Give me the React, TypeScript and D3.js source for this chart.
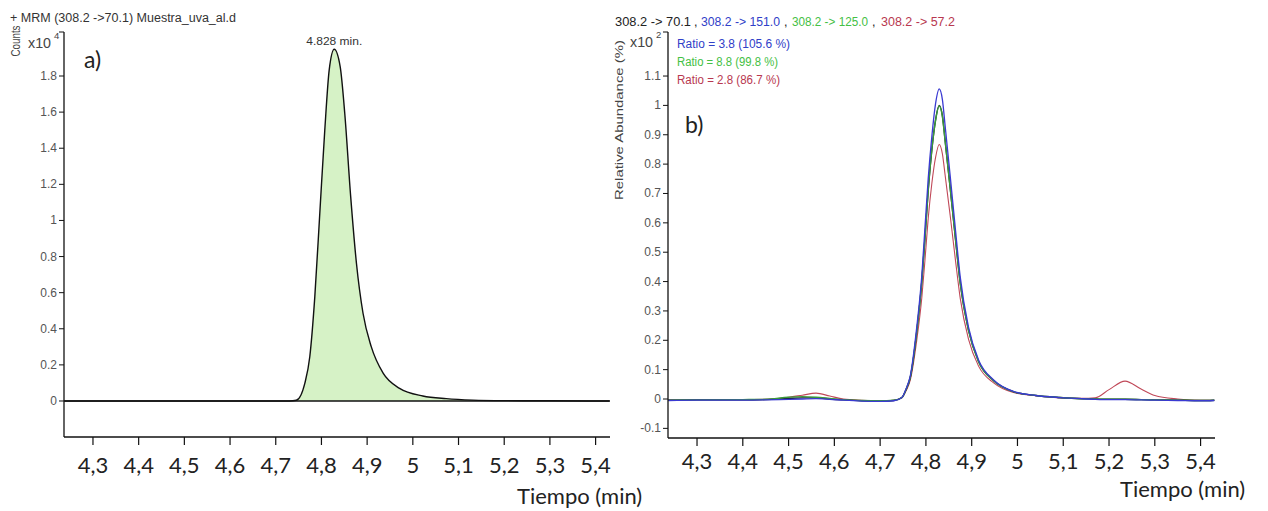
import React from "react";
import * as d3 from "d3";

// ---------- data ----------
const xTicks = [4.3, 4.4, 4.5, 4.6, 4.7, 4.8, 4.9, 5.0, 5.1, 5.2, 5.3, 5.4];
const xTickLabels = ["4,3", "4,4", "4,5", "4,6", "4,7", "4,8", "4,9", "5", "5,1", "5,2", "5,3", "5,4"];
const yTicksA = [0, 0.2, 0.4, 0.6, 0.8, 1, 1.2, 1.4, 1.6, 1.8];
const yTickLabelsA = ["0", "0.2", "0.4", "0.6", "0.8", "1", "1.2", "1.4", "1.6", "1.8"];
const yTicksB = [-0.1, 0, 0.1, 0.2, 0.3, 0.4, 0.5, 0.6, 0.7, 0.8, 0.9, 1, 1.1];
const yTickLabelsB = ["-0.1", "0", "0.1", "0.2", "0.3", "0.4", "0.5", "0.6", "0.7", "0.8", "0.9", "1", "1.1"];

// panel a: MRM 308.2 -> 70.1 (counts x10^4)
const tA = [4.237, 4.7, 4.73, 4.745, 4.7636, 4.7745, 4.7855, 4.7964, 4.8073, 4.817, 4.828, 4.841, 4.851, 4.864, 4.8766, 4.891, 4.909, 4.935, 4.971, 5.022, 5.073, 5.131, 5.2, 5.3, 5.43];
const countsA = [0, 0, 0, 0.004, 0.098, 0.245, 0.578, 1.04, 1.5, 1.834, 1.948, 1.852, 1.594, 1.132, 0.763, 0.486, 0.301, 0.154, 0.07, 0.028, 0.013, 0.005, 0.002, 0.001, 0];

// panel b: relative abundance (x10^2 %)
const tB = [4.237, 4.3, 4.4, 4.45, 4.5, 4.53, 4.56, 4.59, 4.62, 4.66, 4.7, 4.73,
  4.7475, 4.756, 4.766, 4.78, 4.791, 4.798, 4.805, 4.813, 4.821, 4.829,
  4.836, 4.842, 4.853, 4.864, 4.875, 4.893, 4.915, 4.948, 4.991, 5.04, 5.093,
  5.14, 5.17, 5.2, 5.235, 5.27, 5.3, 5.35, 5.4, 5.43];
const trace70 = [-0.004, -0.003, -0.003, -0.002, 0.002, 0.004, 0.004, 0.0, -0.003, -0.006, -0.007, -0.005,
  0.005, 0.03, 0.075, 0.23, 0.4, 0.55, 0.71, 0.85, 0.95, 1.0,
  0.965, 0.88, 0.72, 0.555, 0.395, 0.235, 0.128, 0.062, 0.025, 0.012, 0.005,
  0.001, 0.0, -0.001, -0.001, -0.002, -0.003, -0.004, -0.005, -0.004];
const trace151 = [-0.005, -0.004, -0.004, -0.003, -0.001, 0.0, 0.001, -0.001, -0.004, -0.007, -0.008, -0.006,
  0.005, 0.032, 0.08, 0.245, 0.42, 0.585, 0.75, 0.895, 1.005, 1.056,
  1.02, 0.93, 0.76, 0.585, 0.415, 0.245, 0.133, 0.065, 0.026, 0.012, 0.005,
  0.001, -0.001, -0.002, -0.002, -0.003, -0.004, -0.005, -0.006, -0.005];
const trace125 = [-0.004, -0.003, -0.002, -0.001, 0.006, 0.008, 0.006, 0.002, -0.002, -0.005, -0.006, -0.004,
  0.005, 0.03, 0.075, 0.23, 0.4, 0.55, 0.71, 0.85, 0.948, 0.998,
  0.962, 0.878, 0.718, 0.553, 0.394, 0.234, 0.127, 0.062, 0.025, 0.012, 0.005,
  0.001, 0.0, -0.001, -0.001, -0.002, -0.003, -0.004, -0.005, -0.004];
const trace57 = [-0.003, -0.002, -0.002, -0.001, 0.006, 0.013, 0.02, 0.01, 0.0, -0.004, -0.006, -0.004,
  0.004, 0.026, 0.065, 0.2, 0.345, 0.475, 0.615, 0.735, 0.822, 0.867,
  0.835, 0.762, 0.625, 0.48, 0.343, 0.204, 0.112, 0.055, 0.022, 0.011, 0.004,
  0.002, 0.004, 0.032, 0.061, 0.034, 0.012, 0.0, -0.004, -0.004];

const transitions = ["308.2 -> 70.1", "308.2 -> 151.0", "308.2 -> 125.0", "308.2 -> 57.2"];
const ratioLabels = ["Ratio = 3.8 (105.6 %)", "Ratio = 8.8 (99.8 %)", "Ratio = 2.8 (86.7 %)"];

// ---------- styles ----------
const BIG = "Lato, 'Open Sans', sans-serif";
const SMALL = "'Liberation Sans', Arial, sans-serif";
const C_BLACK = "#1a1a2a";
const C_BLUE = "#3a3ad2";
const C_GREEN = "#3a9a3a";
const C_RED = "#c04858";
const L_BLUE = "#3040c8";
const L_GREEN = "#44c044";
const L_RED = "#b83850";

const xDomain: [number, number] = [4.2366, 5.4315];

function XAxis({ x, y0, labelY }: { x: d3.ScaleLinear<number, number>; y0: number; labelY: number }) {
  const [a, b] = x.range();
  return (
    <g>
      <line x1={a} x2={b} y1={y0} y2={y0} stroke="#111" strokeWidth={1.3} />
      {xTicks.map((t, i) => (
        <g key={i}>
          <line x1={x(t)} x2={x(t)} y1={y0} y2={y0 + 8} stroke="#111" strokeWidth={1.2} />
          <text x={x(t)} y={labelY} fontFamily={BIG} fontSize={22} textAnchor="middle" fill="#222">
            {xTickLabels[i]}
          </text>
        </g>
      ))}
    </g>
  );
}

function YAxis({ y, x0, ticks, labels, top }: { y: d3.ScaleLinear<number, number>; x0: number; ticks: number[]; labels: string[]; top: number }) {
  const [b, t] = y.range();
  return (
    <g>
      <line x1={x0} x2={x0} y1={t} y2={b} stroke="#111" strokeWidth={1.3} />
      <line x1={x0 - 5} x2={x0} y1={top} y2={top} stroke="#111" strokeWidth={1} />
      {ticks.map((v, i) => (
        <g key={i}>
          <line x1={x0 - 5} x2={x0} y1={y(v)} y2={y(v)} stroke="#111" strokeWidth={1} />
          <text x={x0 - 7} y={y(v) + 4} fontFamily={SMALL} fontSize={12} textAnchor="end" fill="#555">
            {labels[i]}
          </text>
        </g>
      ))}
    </g>
  );
}

export default function App() {
  // panel a scales
  const xA = d3.scaleLinear().domain(xDomain).range([64, 610]);
  const yA = d3.scaleLinear().domain([-0.1994, 2.0437]).range([437, 32]);
  // panel b scales
  const xB = d3.scaleLinear().domain(xDomain).range([668, 1215]);
  const yB = d3.scaleLinear().domain([-0.1328, 1.25]).range([438, 32]);

  const ptsA = tA.map((t, i) => [t, countsA[i]] as [number, number]);
  const curve = d3.curveMonotoneX;
  const areaA = d3.area<[number, number]>().x((d) => xA(d[0])).y0(yA(0)).y1((d) => yA(d[1])).curve(curve);
  const lineA = d3.line<[number, number]>().x((d) => xA(d[0])).y((d) => yA(d[1])).curve(curve);

  const lineB = d3.line<[number, number]>().x((d) => xB(d[0])).y((d) => yB(d[1])).curve(curve);
  const mk = (vals: number[]) => tB.map((t, i) => [t, vals[i]] as [number, number]);
  const seriesB = [
    { vals: trace57, color: C_RED, w: 1.1 },
    { vals: trace70, color: C_BLACK, w: 1.4 },
    { vals: trace125, color: C_GREEN, w: 1.4 },
    { vals: trace151, color: C_BLUE, w: 1.3 },
  ];

  return (
    <svg width={1268} height={511} style={{ position: "absolute", left: 0, top: 0, background: "#fff" }}>
      <rect x={0} y={0} width={1268} height={511} fill="#fff" />
      {/* ---------------- panel a ---------------- */}
      <text x={10} y={22} fontFamily={SMALL} fontSize={12.5} fill="#333" textLength={226} lengthAdjust="spacingAndGlyphs">
        + MRM (308.2 -&gt;70.1) Muestra_uva_al.d
      </text>
      <text transform="translate(20,41) rotate(-90)" fontFamily={SMALL} fontSize={12} textAnchor="middle" fill="#444" textLength={31} lengthAdjust="spacingAndGlyphs">
        Counts
      </text>
      <text x={28} y={48} fontFamily={SMALL} fontSize={14} fill="#444" textLength={23} lengthAdjust="spacingAndGlyphs">x10</text>
      <text x={54} y={39} fontFamily={SMALL} fontSize={9.5} fill="#444">4</text>

      <path d={areaA(ptsA) || ""} fill="#d6f2c6" />
      <line x1={xA(xDomain[0])} x2={xA(xDomain[1])} y1={yA(0)} y2={yA(0)} stroke="#111" strokeWidth={1.4} />
      <path d={lineA(ptsA) || ""} fill="none" stroke="#111" strokeWidth={1.4} />
      <text x={xA(4.828)} y={45} fontFamily={SMALL} fontSize={11} textAnchor="middle" fill="#333" textLength={56} lengthAdjust="spacingAndGlyphs">
        4.828 min.
      </text>
      <text x={84} y={68} fontFamily={BIG} fontSize={23} fill="#222">a)</text>

      <YAxis y={yA} x0={64} ticks={yTicksA} labels={yTickLabelsA} top={32} />
      <XAxis x={xA} y0={437} labelY={473} />
      <text x={517} y={504} fontFamily={BIG} fontSize={22} fill="#222">Tiempo (min)</text>

      {/* ---------------- panel b ---------------- */}
      <g fontFamily={SMALL} fontSize={12.5}>
        <text x={615} y={26} fill="#222" textLength={76} lengthAdjust="spacingAndGlyphs">{transitions[0]}</text>
        <text x={694} y={26} fill="#222">,</text>
        <text x={701} y={26} fill={L_BLUE} textLength={79} lengthAdjust="spacingAndGlyphs">{transitions[1]}</text>
        <text x={784} y={26} fill="#222">,</text>
        <text x={792} y={26} fill={L_GREEN} textLength={76} lengthAdjust="spacingAndGlyphs">{transitions[2]}</text>
        <text x={872} y={26} fill="#222">,</text>
        <text x={881} y={26} fill={L_RED} textLength={74} lengthAdjust="spacingAndGlyphs">{transitions[3]}</text>
      </g>
      <text transform="translate(623,120) rotate(-90)" fontFamily={SMALL} fontSize={11} textAnchor="middle" fill="#444" textLength={160} lengthAdjust="spacingAndGlyphs">
        Relative Abundance (%)
      </text>
      <text x={630} y={47} fontFamily={SMALL} fontSize={14} fill="#444" textLength={23} lengthAdjust="spacingAndGlyphs">x10</text>
      <text x={656} y={38} fontFamily={SMALL} fontSize={9.5} fill="#444">2</text>
      <text x={677} y={48} fontFamily={SMALL} fontSize={12.5} fill={L_BLUE} textLength={113} lengthAdjust="spacingAndGlyphs">{ratioLabels[0]}</text>
      <text x={677} y={66} fontFamily={SMALL} fontSize={12.5} fill={L_GREEN} textLength={101} lengthAdjust="spacingAndGlyphs">{ratioLabels[1]}</text>
      <text x={677} y={84} fontFamily={SMALL} fontSize={12.5} fill={L_RED} textLength={103} lengthAdjust="spacingAndGlyphs">{ratioLabels[2]}</text>
      <text x={685} y={133} fontFamily={BIG} fontSize={23} fill="#222">b)</text>

      {seriesB.map((s, i) => (
        <path key={i} d={lineB(mk(s.vals)) || ""} fill="none" stroke={s.color} strokeWidth={s.w} />
      ))}

      <YAxis y={yB} x0={668} ticks={yTicksB} labels={yTickLabelsB} top={32} />
      <XAxis x={xB} y0={438} labelY={469} />
      <text x={1120} y={497} fontFamily={BIG} fontSize={22} fill="#222">Tiempo (min)</text>
    </svg>
  );
}
